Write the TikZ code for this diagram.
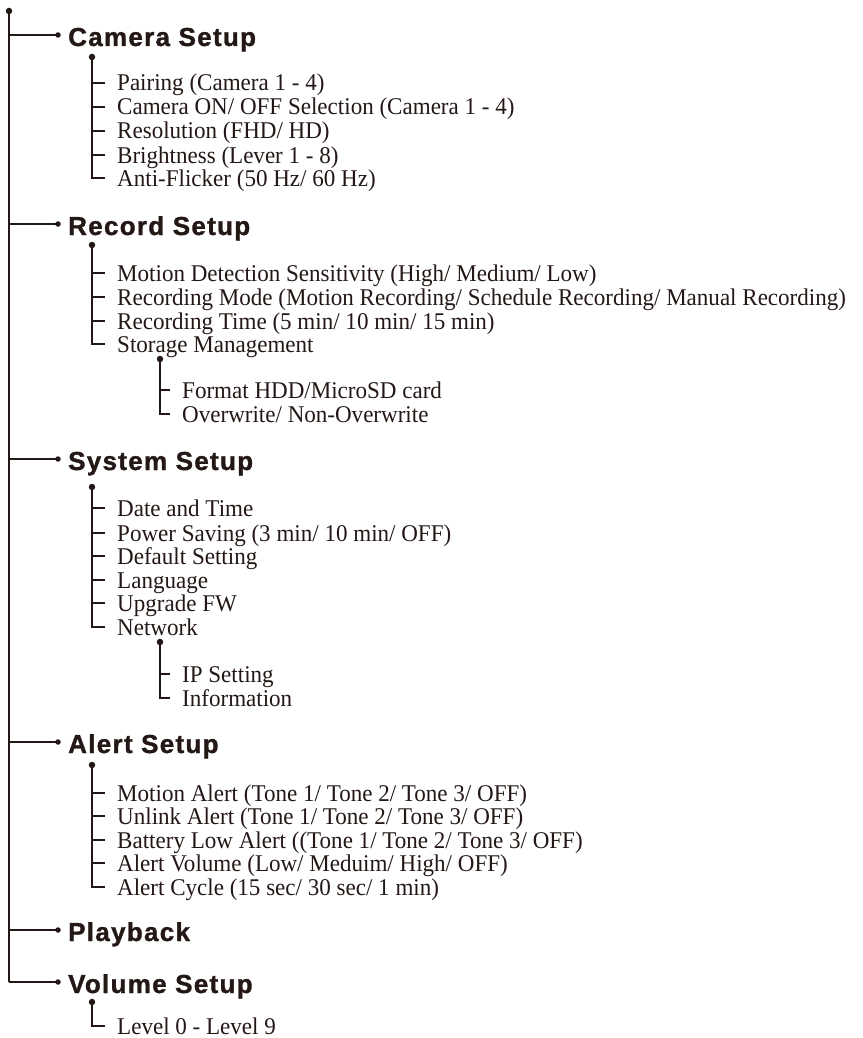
\documentclass[tikz,border=0pt]{standalone}
\usepackage{fontspec}
\setmainfont[FakeStretch=0.96]{Liberation Serif}
\newfontfamily\hdfont[LetterSpace=5,BoldFeatures={FakeBold=1.2}]{Liberation Sans}
\definecolor{ink}{HTML}{231815}
\begin{document}
\begin{tikzpicture}[x=1pt,y=-1pt,
  hd/.style={anchor=base west, inner sep=0, text=ink, font=\hdfont\bfseries\fontsize{26}{27}\selectfont},
  it/.style={anchor=base west, inner sep=0, text=ink, font=\fontsize{24}{25}\selectfont},
  dotn/.style={circle, fill=ink, inner sep=0, minimum size=6.5},
  hdot/.style={circle, fill=ink, inner sep=0, minimum size=5.5},
  ln/.style={draw=ink, line width=1.1}]
\useasboundingbox (0,0) rectangle (862,1038);
% root
\node[dotn] (root) at (9,11) {};
\coordinate (rootend) at (9,982);
\draw[ln] (root.center) -- (rootend);
% headers
\foreach \n/\y/\t in {cam/35/Camera Setup, rec/224/Record Setup, sys/459/System Setup, alt/742/Alert Setup, pb/930/Playback, vol/982/Volume Setup}{
  \node[hdot] (\n-hd) at (58,\y) {};
  \node[hd] (\n) at (68,\y+11) {\t};
  \draw[ln] (root.center |- \n-hd) -- (\n-hd.center);
}
% items
\newcommand\itemrow[4]{% name, x text, y tick, text
  \node[it] (#1) at (#2,#3+8) {#4};
  \coordinate (#1-t) at (#2-12,#3);
}
% Camera
\node[dotn] (cam-d) at (92,57) {};
\itemrow{c1}{117}{83}{Pairing (Camera 1 - 4)}
\itemrow{c2}{117}{107}{Camera ON/ OFF Selection (Camera 1 - 4)}
\itemrow{c3}{117}{131}{Resolution (FHD/ HD)}
\itemrow{c4}{117}{155}{Brightness (Lever 1 - 8)}
\itemrow{c5}{117}{178}{Anti-Flicker (50 Hz/ 60 Hz)}
\draw[ln] (cam-d.center) |- (c5-t);
\foreach \i in {c1,c2,c3,c4}{\draw[ln] (cam-d.center |- \i-t) -- (\i-t);}
% Record
\node[dotn] (rec-d) at (92,245) {};
\itemrow{r1}{117}{273}{Motion Detection Sensitivity (High/ Medium/ Low)}
\itemrow{r2}{117}{297}{Recording Mode (Motion Recording/ Schedule Recording/ Manual Recording)}
\itemrow{r3}{117}{321}{Recording Time (5 min/ 10 min/ 15 min)}
\itemrow{r4}{117}{344}{Storage Management}
\draw[ln] (rec-d.center) |- (r4-t);
\foreach \i in {r1,r2,r3}{\draw[ln] (rec-d.center |- \i-t) -- (\i-t);}
\node[dotn] (st-d) at (160,359) {};
\itemrow{s1}{182}{390}{Format HDD/MicroSD card}
\itemrow{s2}{182}{414}{Overwrite/ Non-Overwrite}
\draw[ln] (st-d.center) |- (s2-t);
\draw[ln] (st-d.center |- s1-t) -- (s1-t);
% System
\node[dotn] (sys-d) at (92,487) {};
\itemrow{y1}{117}{508}{Date and Time}
\itemrow{y2}{117}{533}{Power Saving (3 min/ 10 min/ OFF)}
\itemrow{y3}{117}{556}{Default Setting}
\itemrow{y4}{117}{580}{Language}
\itemrow{y5}{117}{603}{Upgrade FW}
\itemrow{y6}{117}{627}{Network}
\draw[ln] (sys-d.center) |- (y6-t);
\foreach \i in {y1,y2,y3,y4,y5}{\draw[ln] (sys-d.center |- \i-t) -- (\i-t);}
\node[dotn] (net-d) at (160,642) {};
\itemrow{n1}{182}{674}{IP Setting}
\itemrow{n2}{182}{698}{Information}
\draw[ln] (net-d.center) |- (n2-t);
\draw[ln] (net-d.center |- n1-t) -- (n1-t);
% Alert
\node[dotn] (alt-d) at (92,765) {};
\itemrow{a1}{117}{793}{Motion Alert (Tone 1/ Tone 2/ Tone 3/ OFF)}
\itemrow{a2}{117}{816}{Unlink Alert (Tone 1/ Tone 2/ Tone 3/ OFF)}
\itemrow{a3}{117}{840}{Battery Low Alert ((Tone 1/ Tone 2/ Tone 3/ OFF)}
\itemrow{a4}{117}{863}{Alert Volume (Low/ Meduim/ High/ OFF)}
\itemrow{a5}{117}{887}{Alert Cycle (15 sec/ 30 sec/ 1 min)}
\draw[ln] (alt-d.center) |- (a5-t);
\foreach \i in {a1,a2,a3,a4}{\draw[ln] (alt-d.center |- \i-t) -- (\i-t);}
% Volume
\node[dotn] (vol-d) at (92,1002) {};
\itemrow{v1}{117}{1026}{Level 0 - Level 9}
\draw[ln] (vol-d.center) |- (v1-t);
\end{tikzpicture}
\end{document}
